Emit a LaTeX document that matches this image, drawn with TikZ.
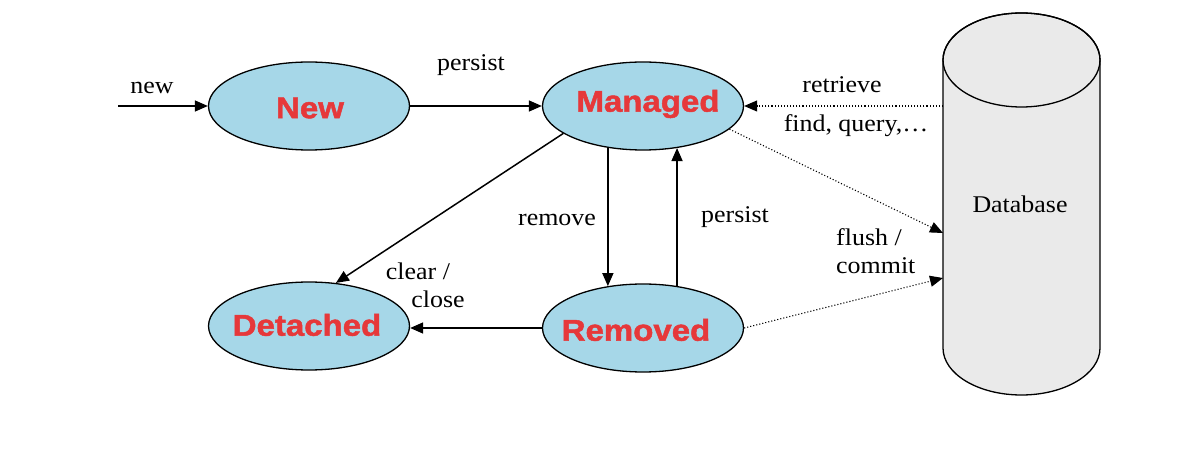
\documentclass[tikz,border=0pt]{standalone}
\usepackage{fontspec}
\setmainfont{Liberation Serif}[FakeStretch=1.08]
\newfontfamily\statefont{Liberation Sans}[FakeStretch=1.1,FakeBold=1.6]
\usetikzlibrary{arrows.meta,shapes.geometric}
\definecolor{stfill}{RGB}{166,215,232}
\definecolor{stred}{RGB}{230,56,58}
\definecolor{dbfill}{RGB}{234,234,234}
\begin{document}
\begin{tikzpicture}[x=1pt,y=1pt,
  state/.style={ellipse,draw,line width=1.3pt,fill=stfill,minimum width=201pt,minimum height=88pt,inner sep=0pt},
  stlabel/.style={font=\statefont\bfseries\fontsize{30}{32}\selectfont,text=stred},
  lbl/.style={font=\fontsize{24}{26}\selectfont,inner sep=0pt},
  conn/.style={line width=1.5pt,-{Triangle[length=13pt,width=11pt]}},
  dotconn/.style={line width=1.1pt,dotted,-{Triangle[length=13pt,width=11pt]}}]
\useasboundingbox (0,0) rectangle (1197,-470);
% database cylinder
\draw[line width=1.3pt,fill=dbfill] (943,-60) -- (943,-348) arc[start angle=180,end angle=360,x radius=78.5,y radius=47] -- (1100,-60) arc[start angle=0,end angle=180,x radius=78.5,y radius=47] -- cycle;
\draw[line width=1.3pt] (1021.5,-60) ellipse[x radius=78.5,y radius=47];
\node[lbl] (dbl) at (1020,-204) {Database};
\coordinate (dbA) at (943,-106);
\coordinate (dbB) at (943,-233);
\coordinate (dbC) at (943,-278);
% states
\node[state] (new) at (309,-106) {};
\node[state] (mg) at (643,-106) {};
\node[state] (det) at (309,-326) {};
\node[state] (rm) at (643,-328) {};
\node[stlabel] at (310,-108) {New};
\node[stlabel] at (648,-104) {Managed};
\node[stlabel] at (307,-325) {Detached};
\node[stlabel] at (636,-330) {Removed};
% connectors
\coordinate (start) at (118,-106);
\draw[conn] (start) -- (new.west);
\draw[conn] (new.east) -- (mg.west);
\draw[dotconn] (dbA) -- (mg.east);
\draw[dotconn] (mg.-15) -- (dbB);
\draw[dotconn] (rm.east) -- (dbC);
\draw[conn] (mg.-161) -- (det.58);
\draw[conn] (mg.-130) -- (rm.130);
\draw[conn] (rm.51.5) -- (mg.-51.5);
\draw[conn] (rm.west) -- (rm.west -| det.east);
% labels
\node[lbl] at (152,-88) {new};
\node[lbl] at (471,-65) {persist};
\node[lbl] at (842,-85) {retrieve};
\node[lbl] at (856,-126) {find, query,…};
\node[lbl] at (557,-220) {remove};
\node[lbl] at (735,-217) {persist};
\node[lbl,anchor=west] at (836,-237) {flush /};
\node[lbl,anchor=west] at (836,-266) {commit};
\node[lbl] at (418,-271) {clear /};
\node[lbl] at (438,-299) {close};
\end{tikzpicture}
\end{document}
